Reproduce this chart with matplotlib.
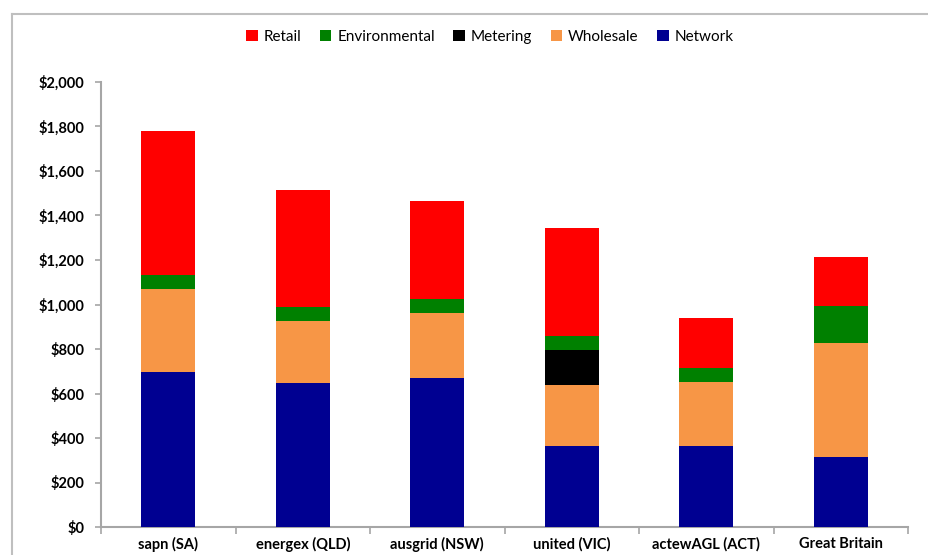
import matplotlib
matplotlib.use('Agg')
from matplotlib import pyplot as plt
from matplotlib.lines import Line2D
import numpy as np

plt.rcParams['font.family'] = ['Lato', 'DejaVu Sans']

# data ($ per year)
companies = ['sapn (SA)', 'energex (QLD)', 'ausgrid (NSW)', 'united (VIC)',
             'actewAGL (ACT)', 'Great Britain']
network = [697, 646, 668, 365, 365, 313]
wholesale = [373, 280, 292, 273, 287, 515]
metering = [0, 0, 0, 158, 0, 0]
environmental = [62, 63, 63, 61, 64, 167]
retail = [648, 527, 442, 487, 222, 217]

series = [
    ('Network', network, '#000091'),
    ('Wholesale', wholesale, '#F79646'),
    ('Metering', metering, '#000000'),
    ('Environmental', environmental, '#008000'),
    ('Retail', retail, '#FF0000'),
]

grey = '#A6A6A6'

fig = plt.figure(figsize=(9.29, 5.55), dpi=100)
ax = fig.add_axes([101 / 929, 28 / 555, 807 / 929, 445 / 555])

x = np.arange(len(companies))
bottom = np.zeros(len(companies))
handles = {}
for name, vals, col in series:
    vals = np.array(vals, dtype=float)
    b = ax.bar(x, vals, width=0.4, bottom=bottom, color=col, label=name,
               linewidth=0, zorder=3)
    handles[name] = b
    bottom += vals

ax.set_xlim(-0.5, len(companies) - 0.5)
ax.set_ylim(0, 2000)
ax.set_yticks(range(0, 2001, 200))
ax.set_yticklabels(['${:,}'.format(v) for v in range(0, 2001, 200)],
                   fontweight='bold', fontsize=10.5)

# boundary ticks (major) and centred labels (minor)
ax.set_xticks(np.arange(-0.5, len(companies), 1.0))
ax.set_xticklabels([])
ax.set_xticks(x, minor=True)
ax.set_xticklabels(companies, minor=True, fontweight='bold', fontsize=10.5)
ax.tick_params(axis='x', which='major', length=5, width=1.2, color=grey,
               direction='out')
ax.tick_params(axis='x', which='minor', length=0, pad=7)
ax.tick_params(axis='y', length=4, width=1.2, color=grey, pad=8)

for s in ['top', 'right']:
    ax.spines[s].set_visible(False)
for s in ['left', 'bottom']:
    ax.spines[s].set_color(grey)
    ax.spines[s].set_linewidth(1.5)

order = ['Retail', 'Environmental', 'Metering', 'Wholesale', 'Network']
fig.legend([handles[n] for n in order], order, loc='center',
           bbox_to_anchor=(490 / 929, 1 - 37 / 555), ncol=5, frameon=False,
           fontsize=11, handlelength=0.75, handleheight=0.75,
           handletextpad=0.4, columnspacing=1.2)

# outer chart frame (top and left edges visible)
fig.add_artist(Line2D([12 / 929, 12 / 929], [0, 1 - 14 / 555],
                      transform=fig.transFigure, color='#BFBFBF', lw=1.5))
fig.add_artist(Line2D([12 / 929, 1], [1 - 14 / 555, 1 - 14 / 555],
                      transform=fig.transFigure, color='#BFBFBF', lw=1.5))

plt.savefig('out.png', dpi=100)
